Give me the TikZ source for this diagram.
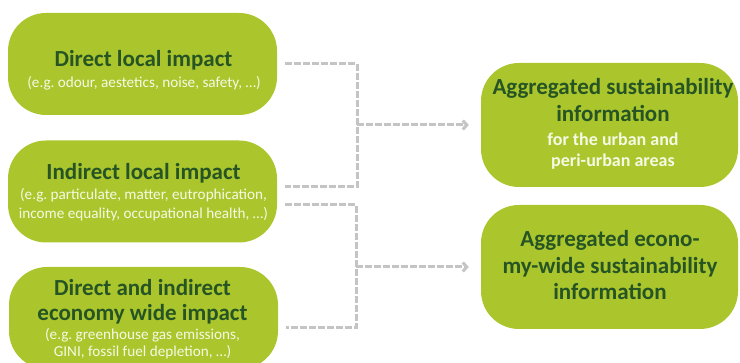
\documentclass[tikz,border=0pt]{standalone}
\usepackage{fontspec}
\setmainfont{Carlito}
\usetikzlibrary{arrows.meta}
\definecolor{boxgreen}{RGB}{170,198,44}
\definecolor{titlegreen}{RGB}{38,84,36}
\definecolor{subwhite}{RGB}{246,249,228}
\definecolor{linegray}{RGB}{196,196,196}
\frenchspacing
\begin{document}
\begin{tikzpicture}[x=1pt,y=-1pt,
  gbox/.style={fill=boxgreen, rounded corners=38pt, inner sep=0pt},
  leftbox/.style={gbox, minimum width=269pt, minimum height=102pt},
  rightbox/.style={gbox, minimum width=257pt, minimum height=124pt},
  ttl/.style={anchor=base, inner sep=0pt, text=titlegreen, font=\fontsize{23}{27}\selectfont\bfseries},
  sub/.style={anchor=base, inner sep=0pt, text=subwhite, font=\fontsize{15.2}{18}\selectfont},
  subbig/.style={anchor=base, inner sep=0pt, text=subwhite, font=\fontsize{18}{22}\selectfont\bfseries},
  conn/.style={draw=linegray, line width=3pt, dash pattern=on 6.5pt off 2.5pt},
  arr/.style={conn, shorten >=12pt, -{Straight Barb[length=4pt,width=9pt]}}]
\useasboundingbox (0,0) rectangle (740,363);
\clip (0,0) rectangle (740,363);

% boxes
\node[leftbox] (b1) at (142.5,64) {};
\node[leftbox] (b2) at (142.5,191.5) {};
\node[leftbox] (b3) at (143.5,318) {};
\node[rightbox] (r1) at (609.5,125) {};
\node[rightbox] (r2) at (609.5,267) {};

% texts
\node[ttl] (b1t) at (143.5,67) {Direct local impact};
\node[sub] (b1s) at (144,88) {(e.g. odour, aestetics, noise, safety, \dots)};

\node[ttl] (b2t) at (143.5,180) {Indirect local impact};
\node[sub] (b2s1) at (143.5,200) {(e.g. particulate, matter, eutrophication,};
\node[sub] (b2s2) at (143.5,218.5) {income equality, occupational health, \dots)};

\node[ttl] (b3t1) at (142.5,296) {Direct and indirect};
\node[ttl] (b3t2) at (142.5,321) {economy wide impact};
\node[sub] (b3s1) at (142.5,340) {(e.g. greenhouse gas emissions,};
\node[sub] (b3s2) at (142.5,357) {GINI, fossil fuel depletion, \dots)};

\node[ttl] (r1t1) at (613,95) {Aggregated sustainability};
\node[ttl] (r1t2) at (613,122) {information};
\node[subbig] (r1s1) at (613,146) {for the urban and};
\node[subbig] (r1s2) at (613,167) {peri-urban areas};

\node[ttl] (r2t1) at (610,246.5) {Aggregated econo-};
\node[ttl] (r2t2) at (610,273.5) {my-wide sustainability};
\node[ttl] (r2t3) at (610,300) {information};

% connectors
\coordinate (m1) at (357,125);
\coordinate (m2) at (356,267);

\draw[conn] ([xshift=8pt]b1.east) -| (m1) |- ([xshift=8pt,yshift=4.5pt]b2.east);
\draw[conn] ([xshift=8pt,yshift=-13.5pt]b2.east) -| (m2) |- ([xshift=8pt,yshift=-10pt]b3.east);
\draw[arr] (m1) -- (r1.west);
\draw[arr] (m2) -- (r2.west);
\end{tikzpicture}
\end{document}
